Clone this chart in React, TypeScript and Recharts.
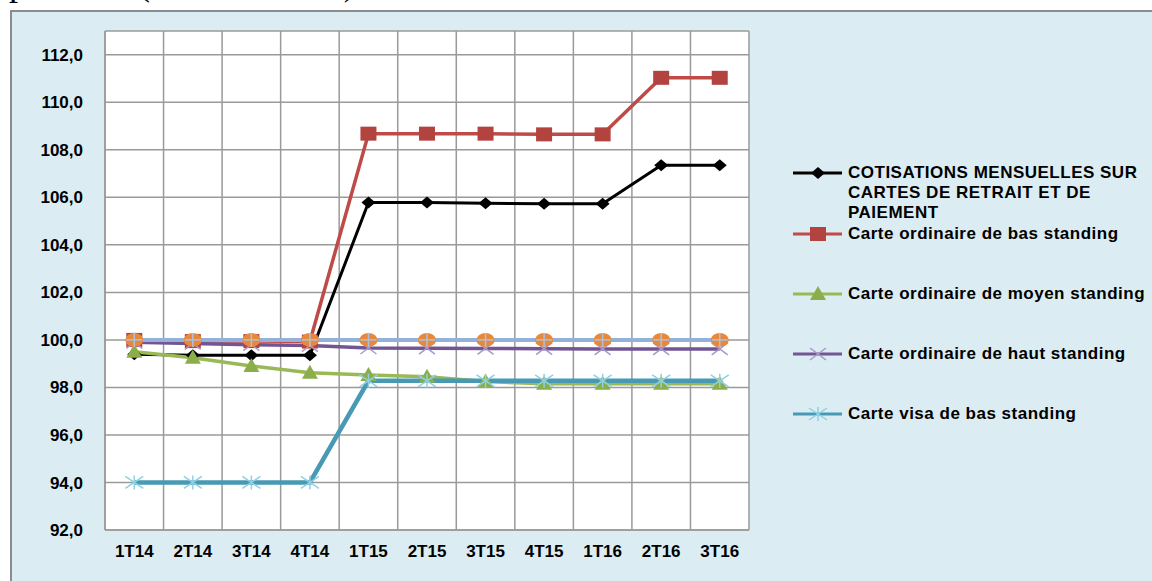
import React from "react";
import { LineChart, Line, XAxis, YAxis, CartesianGrid } from "recharts";

// Trimestres
const categories = ["1T14", "2T14", "3T14", "4T14", "1T15", "2T15", "3T15", "4T15", "1T16", "2T16", "3T16"];

// Indices (base 100)
const cotisations = [99.4, 99.35, 99.35, 99.35, 105.78, 105.78, 105.75, 105.73, 105.73, 107.35, 107.35];
const ordinaireBas = [100.0, 99.95, 99.95, 99.93, 108.68, 108.68, 108.68, 108.65, 108.65, 111.03, 111.03];
const ordinaireMoyen = [99.5, 99.25, 98.9, 98.62, 98.52, 98.45, 98.25, 98.15, 98.15, 98.15, 98.15];
const ordinaireHaut = [99.9, 99.85, 99.8, 99.76, 99.66, 99.65, 99.64, 99.63, 99.62, 99.62, 99.62];
const visaBas = [94.0, 94.0, 94.0, 94.0, 98.28, 98.28, 98.28, 98.28, 98.28, 98.28, 98.28];
const serie6 = [100.0, 100.0, 100.0, 100.0, 100.0, 100.0, 100.0, 100.0, 100.0, 100.0, 100.0];
const serie7 = [100.0, 100.0, 100.0, 100.0, 100.0, 100.0, 100.0, 100.0, 100.0, 100.0, 100.0];

const yTicks = [92, 94, 96, 98, 100, 102, 104, 106, 108, 110, 112];

const data = categories.map((name, i) => ({
  i,
  name,
  cotisations: cotisations[i],
  ordinaireBas: ordinaireBas[i],
  ordinaireMoyen: ordinaireMoyen[i],
  ordinaireHaut: ordinaireHaut[i],
  visaBas: visaBas[i],
  serie6: serie6[i],
  serie7: serie7[i],
}));

type Shape = "diamond" | "square" | "triangle" | "cross" | "star" | "circle" | "plus";

function drawMarker(shape: Shape, cx: number, cy: number, color: string, key?: any) {
  switch (shape) {
    case "diamond":
      return <polygon key={key} points={`${cx},${cy - 6} ${cx + 7},${cy} ${cx},${cy + 6} ${cx - 7},${cy}`} fill={color} />;
    case "square":
      return <rect key={key} x={cx - 8} y={cy - 7} width={16} height={14} fill={color} />;
    case "triangle":
      return <polygon key={key} points={`${cx},${cy - 8} ${cx + 8},${cy + 6} ${cx - 8},${cy + 6}`} fill={color} />;
    case "cross":
      return (
        <g key={key} stroke={color} strokeWidth={1.5}>
          <line x1={cx - 8} y1={cy - 6} x2={cx + 8} y2={cy + 6} />
          <line x1={cx - 8} y1={cy + 6} x2={cx + 8} y2={cy - 6} />
        </g>
      );
    case "star":
      return (
        <g key={key} stroke={color} strokeWidth={1.5}>
          <line x1={cx - 9} y1={cy - 6} x2={cx + 9} y2={cy + 6} />
          <line x1={cx - 9} y1={cy + 6} x2={cx + 9} y2={cy - 6} />
          <line x1={cx} y1={cy - 7} x2={cx} y2={cy + 7} />
        </g>
      );
    case "circle":
      return <ellipse key={key} cx={cx} cy={cy} rx={9} ry={7} fill={color} />;
    case "plus":
      return (
        <g key={key} stroke={color} strokeWidth={1.5}>
          <line x1={cx - 8} y1={cy} x2={cx + 8} y2={cy} />
          <line x1={cx} y1={cy - 7} x2={cx} y2={cy + 7} />
        </g>
      );
  }
  return null;
}

const dotFor = (shape: Shape, color: string) => (p: any) => {
  if (p.cx == null || p.cy == null) return <g key={p.index} />;
  return drawMarker(shape, p.cx, p.cy, color, p.index);
};

const series = [
  { key: "cotisations", name: "COTISATIONS MENSUELLES SUR CARTES DE RETRAIT ET DE PAIEMENT", stroke: "#000000", width: 3, shape: "diamond" as Shape, marker: "#000000", legend: true },
  { key: "ordinaireBas", name: "Carte ordinaire de bas standing", stroke: "#BE4B48", width: 3.5, shape: "square" as Shape, marker: "#B3433F", legend: true },
  { key: "ordinaireMoyen", name: "Carte ordinaire de moyen standing", stroke: "#98B954", width: 3.5, shape: "triangle" as Shape, marker: "#8BAE4B", legend: true },
  { key: "ordinaireHaut", name: "Carte ordinaire de haut standing", stroke: "#735593", width: 3.5, shape: "cross" as Shape, marker: "#A897CA", legend: true },
  { key: "visaBas", name: "Carte visa de bas standing", stroke: "#4799B4", width: 4.5, shape: "star" as Shape, marker: "#8ED0E4", legend: true },
  { key: "serie6", name: "Série 6", stroke: "none", width: 0, shape: "circle" as Shape, marker: "#E8883A", legend: false },
  { key: "serie7", name: "Série 7", stroke: "#94B1D9", width: 4, shape: "plus" as Shape, marker: "#A9C3E6", legend: false },
];

// position verticale de chaque entrée de légende (px depuis le haut du bloc)
const legendTops = [0, 61, 121, 181, 241];

function LegendBlock() {
  const items = series.filter((s) => s.legend);
  return (
    <div style={{ position: "absolute", left: 792, top: 163, width: 360, height: 280 }}>
      {items.map((s, idx) => (
        <div key={s.key} style={{ position: "absolute", left: 0, top: legendTops[idx], display: "flex", alignItems: "flex-start" }}>
          <svg width={52} height={20} style={{ flex: "none" }}>
            <line x1={1} y1={10} x2={50} y2={10} stroke={s.stroke === "none" ? s.marker : s.stroke} strokeWidth={3} />
            {drawMarker(s.shape, 26, 10, s.marker)}
          </svg>
          <div
            style={{
              marginLeft: 4,
              width: 305,
              fontFamily: "'Liberation Sans', Arial, sans-serif",
              fontWeight: "bold",
              fontSize: 17,
              letterSpacing: 0.5,
              lineHeight: "20px",
              color: "#000",
            }}
          >
            {s.name}
          </div>
        </div>
      ))}
    </div>
  );
}

export default function App() {
  const tickStyle = {
    fill: "#000",
    fontFamily: "'Liberation Sans', Arial, sans-serif",
    fontWeight: "bold",
    fontSize: 17,
  };

  return (
    <div style={{ position: "fixed", left: 0, top: 0, width: 1152, height: 581, overflow: "hidden", background: "#fff" }}>
      {/* ligne de texte du document, coupée en haut de la capture */}
      <div
        style={{
          position: "absolute",
          left: 9,
          top: -37,
          fontFamily: "'Liberation Serif', 'Times New Roman', serif",
          fontSize: 36,
          lineHeight: "40px",
          whiteSpace: "nowrap",
          color: "#000",
        }}
      >
        prélevés (en indice 100)
      </div>
      <div
        style={{
          position: "absolute",
          left: 10,
          top: 10,
          width: 1160,
          height: 600,
          border: "2px solid #8c8c8c",
          background: "#DBEDF3",
        }}
      />
      <div style={{ position: "absolute", left: 0, top: 0 }}>
        <LineChart width={1152} height={581} data={data} margin={{ top: 31, right: 403, bottom: 21, left: 0 }}>
          <CartesianGrid
            fill="#ffffff"
            stroke="#9a9a9a"
            strokeWidth={1.5}
            verticalCoordinatesGenerator={(props: any) => {
              const bounds = categories.map((_, i) => i - 0.5).concat([categories.length - 0.5]);
              const sc = props?.xAxis?.scale;
              if (typeof sc === "function") return bounds.map((b) => sc(b));
              const off = props.offset;
              return bounds.map((b) => off.left + ((b + 0.5) / categories.length) * off.width);
            }}
          />
          <XAxis
            type="number"
            dataKey="i"
            domain={[-0.5, categories.length - 0.5]}
            ticks={categories.map((_, i) => i)}
            interval={0}
            tickFormatter={(v: number) => categories[v] ?? ""}
            tick={tickStyle}
            tickLine={false}
            tickSize={0}
            tickMargin={15}
            axisLine={{ stroke: "#9a9a9a", strokeWidth: 1.5 }}
            height={30}
          />
          <YAxis
            type="number"
            domain={[92, 113]}
            ticks={yTicks}
            interval={0}
            tickFormatter={(v: number) => v.toFixed(1).replace(".", ",")}
            tick={tickStyle}
            tickLine={false}
            tickSize={0}
            tickMargin={22}
            axisLine={{ stroke: "#9a9a9a", strokeWidth: 1.5 }}
            width={105}
          />
          {series.map((s) => (
            <Line
              key={s.key}
              type="linear"
              dataKey={s.key}
              name={s.name}
              stroke={s.stroke}
              strokeWidth={s.width}
              dot={dotFor(s.shape, s.marker)}
              activeDot={false}
              isAnimationActive={false}
            />
          ))}
        </LineChart>
      </div>
      <LegendBlock />
    </div>
  );
}
